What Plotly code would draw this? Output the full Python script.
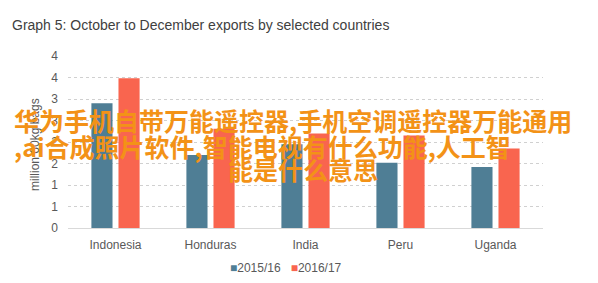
import plotly.graph_objects as go

categories = ["Indonesia", "Honduras", "India", "Peru", "Uganda"]
series_names = ["2015/16", "2016/17"]
values_1516 = [2.90, 1.70, 1.95, 1.52, 1.42]
values_1617 = [3.48, 2.31, 2.20, 2.15, 1.85]
ytick_vals = [0, 0.5, 1, 1.5, 2, 2.5, 3, 3.5, 4]
ytick_text = ["0", "1", "1", "2", "2", "3", "3", "4", "4"]
title_text = "Graph 5: October to December exports by selected countries"
ytitle = "million 60kg bags"
watermark_lines = [
    "华为手机自带万能遥控器,手机空调遥控器万能通用",
    ",ai合成照片软件,智能电视有什么功能,人工智",
    "能是什么意思",
]

W, H = 598, 283
ML, MR, MT, MB = 68, 55, 56, 55
PW = W - ML - MR
PH = H - MT - MB

def px_x(px):
    return (px - ML) / PW

def px_y(py):
    return (H - MB - py) / PH

BLUE = "#4f7e95"
RED = "#f9654f"
GREY = "#595959"
FONT = "Liberation Sans"

fig = go.Figure()
fig.add_trace(go.Bar(x=categories, y=values_1516, name=series_names[0],
                     marker=dict(color=BLUE, line=dict(width=0))))
fig.add_trace(go.Bar(x=categories, y=values_1617, name=series_names[1],
                     marker=dict(color=RED, line=dict(width=0))))

fig.update_layout(
    width=W, height=H,
    margin=dict(l=ML, r=MR, t=MT, b=MB, pad=0, autoexpand=False),
    paper_bgcolor="white", plot_bgcolor="white",
    barmode="group", bargap=0.43, bargroupgap=0.22,
    font=dict(family=FONT, size=12, color=GREY),
    title=dict(text=title_text, x=12 / W, xanchor="left", y=1 - 25 / H, yanchor="middle",
               font=dict(family=FONT, size=14, color="#404040")),
    showlegend=False,
    xaxis=dict(showgrid=False, showline=True, linecolor="#d9d9d9", linewidth=1,
               ticks="", ticklabelstandoff=6,
               tickfont=dict(family=FONT, size=12, color=GREY), zeroline=False),
    yaxis=dict(range=[0, 4], tickvals=ytick_vals, ticktext=ytick_text, showgrid=True,
               gridcolor="#d0d0d0", griddash="dot", gridwidth=1, zeroline=False,
               showline=False, ticks="", ticklabelstandoff=9,
               tickfont=dict(family=FONT, size=12, color=GREY)),
)

# y-axis title
fig.add_annotation(text=ytitle, xref="paper", yref="paper", x=px_x(35), y=px_y(145),
                   xanchor="center", yanchor="middle", textangle=-90, showarrow=False,
                   font=dict(family=FONT, size=12, color=GREY))

# legend (compact, as in the reference)
legend_text = (f'<span style="color:{BLUE}">■</span>{series_names[0]}'
               f'&nbsp;&nbsp;&nbsp;<span style="color:{RED}">■</span>{series_names[1]}')
fig.add_annotation(text=legend_text, xref="paper", yref="paper", x=px_x(286), y=px_y(268),
                   xanchor="center", yanchor="middle", showarrow=False,
                   font=dict(family=FONT, size=12, color=GREY))

wm_pos = [(12, 120), (12, 146), (226, 169)]
for line, (lx, ly) in zip(watermark_lines, wm_pos):
    fig.add_annotation(text=line, xref="paper", yref="paper", x=px_x(lx), y=px_y(ly),
                       xanchor="left", yanchor="middle", showarrow=False,
                       font=dict(family="Noto Sans CJK SC", size=25, color="#f39217", weight="bold"))

fig.write_html("out.html")
